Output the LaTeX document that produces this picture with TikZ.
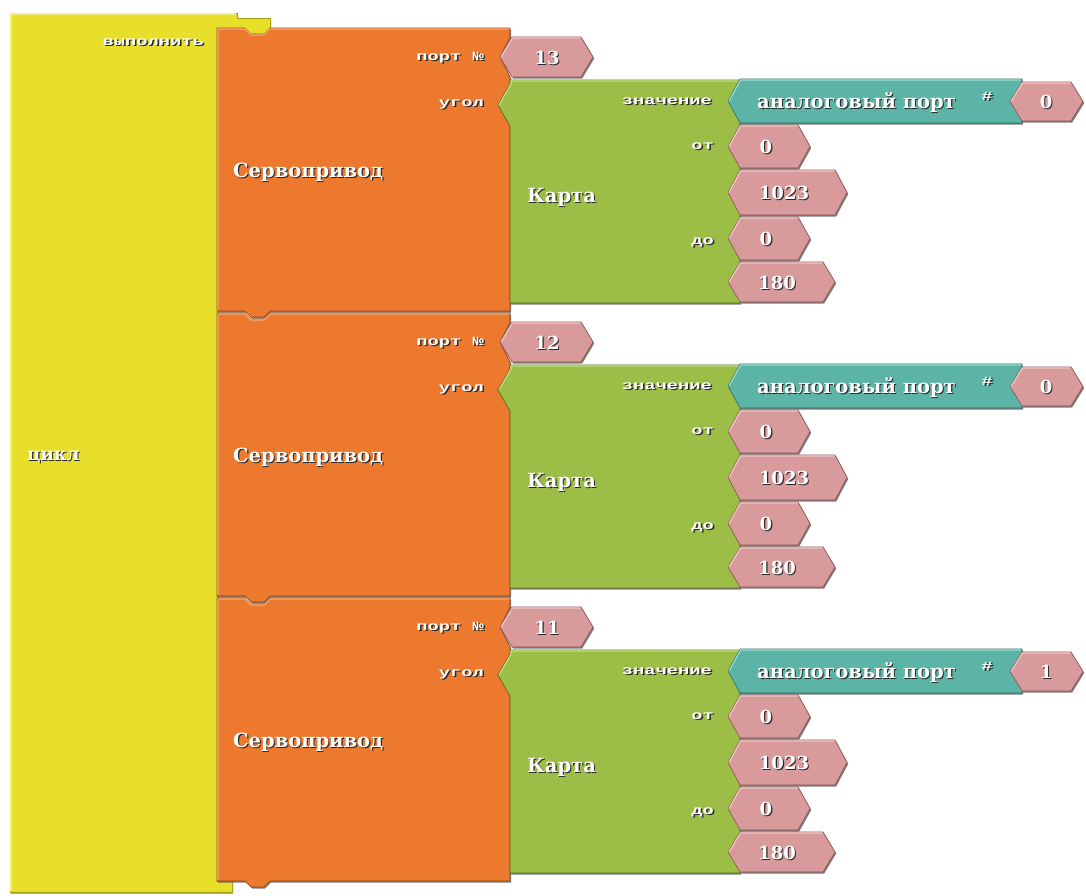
\documentclass[tikz,border=0pt]{standalone}
\usepackage{fontspec}
\usetikzlibrary{shadows}
\newfontfamily\ttlfont{DejaVu Serif}
\newfontfamily\lblfont{Liberation Mono}
\definecolor{ycol}{HTML}{E8DF2A}
\definecolor{ydark}{HTML}{A89E10}
\definecolor{ylight}{HTML}{F4EE7A}
\definecolor{ocol}{HTML}{EC792E}
\definecolor{odark}{HTML}{8E4514}
\definecolor{olight}{HTML}{F5A873}
\definecolor{gcol}{HTML}{9CBE46}
\definecolor{gdark}{HTML}{55701E}
\definecolor{glight}{HTML}{C4DE86}
\definecolor{tcol}{HTML}{5BB4A6}
\definecolor{tdark}{HTML}{2C6A60}
\definecolor{tlight}{HTML}{9DDCD2}
\definecolor{pcol}{HTML}{D89A9A}
\definecolor{pdark}{HTML}{8A5050}
\definecolor{plight}{HTML}{F0C8C8}
\definecolor{txtshadow}{HTML}{2A2A2A}
\newcommand\shtxt[1]{\rlap{\kern1.1pt\raisebox{-1.1pt}{\textcolor{txtshadow}{#1}}}\textcolor{white}{#1}}
\newcommand\mylbl[1]{\scalebox{1.5}[1]{\shtxt{#1}}}
\newcommand\pinkpath[4]{({#1},{((#3)+(#4))/2}) -- ({#1+12},{#3}) -- ({#2-12},{#3}) -- ({#2},{((#3)+(#4))/2}) -- ({#2-12},{#4}) -- ({#1+12},{#4}) -- cycle}
\newcommand\pinktop[4]{({#1+1},{((#3)+(#4))/2}) -- ({#1+12.5},{#3+1}) -- ({#2-12.5},{#3+1})}
\begin{document}
\begin{tikzpicture}[x=1pt,y=-1pt,
  blk/.style={drop shadow={shadow xshift=1.2pt,shadow yshift=-1.5pt,fill=black!60,opacity=0.85}},
  yblk/.style={blk,fill=ycol,draw=ydark,line width=0.6pt},
  oblk/.style={blk,fill=ocol,draw=odark,line width=0.6pt},
  gblk/.style={blk,fill=gcol,draw=gdark,line width=0.6pt},
  tblk/.style={blk,fill=tcol,draw=tdark,line width=0.6pt},
  pblk/.style={blk,fill=pcol,draw=pdark,line width=0.6pt},
  hl/.style={line width=1.2pt},
  ttl/.style={font=\ttlfont\bfseries\fontsize{19.5}{22}\selectfont,inner sep=0pt},
  num/.style={font=\ttlfont\bfseries\fontsize{18}{20}\selectfont,inner sep=0pt},
  lbl/.style={font=\lblfont\bfseries\fontsize{12.5}{14}\selectfont,inner sep=0pt}]
\path[fill=white] (0,0) rectangle (1086,895);
\useasboundingbox (0,0) rectangle (1086,895);
% yellow loop block
\path[yblk] (10,13) -- (237,13) -- (237,18) -- (270,18) -- (270,36) -- (217,36)
  -- (217,881) -- (232,881) -- (232,892) -- (10,892) -- cycle;
\draw[hl,ylight] (11,891) -- (11,14) -- (236,14);
\node[lbl,anchor=east] (vyp) at (204,43) {\mylbl{выполнить}};
\node[num,anchor=west] (cikl) at (27,458) {\shtxt{цикл}};
\foreach \k/\pn/\an in {0/13/0,1/12/0,2/11/1}{
  \pgfmathsetmacro\T{28+285*\k}
  \pgfmathsetmacro\B{311+285*\k}
  % orange servo block
  \path[oblk] (217,\T) -- (245,\T) -- (251,\T+6) -- (264,\T+6) -- (270,\T) -- (510,\T)
    -- (510,\T+9) -- (500,\T+29) -- (510,\T+49) -- (510,\T+56) -- (498,\T+77) -- (510,\T+98)
    -- (510,\B) -- (270,\B) -- (264,\B+6) -- (251,\B+6) -- (245,\B) -- (217,\B) -- cycle;
  \draw[hl,olight] (218,\B-1) -- (218,\T+1) -- (245,\T+1) -- (251,\T+7) -- (264,\T+7) -- (270,\T+1) -- (509,\T+1);
  % port number
  \path[pblk] \pinkpath{500}{593}{\T+9}{\T+49};
  \draw[hl,plight] \pinktop{500}{593}{\T+9}{\T+49};
  % green map block
  \path[gblk] (510,\T+52) -- (740,\T+52) -- (740,\T+275) -- (510,\T+275)
    -- (510,\T+98) -- (498,\T+77) -- (510,\T+56) -- cycle;
  \draw[hl,glight] (499,\T+77) -- (511,\T+56) -- (511,\T+53) -- (739,\T+53);
  % teal analog block
  \path[tblk] (728,\T+73) -- (740,\T+51) -- (1022,\T+51) -- (1022,\T+95) -- (740,\T+95) -- cycle;
  \draw[hl,tlight] (729,\T+73) -- (740.5,\T+52) -- (1021,\T+52);
  \path[pblk] \pinkpath{1010}{1083}{\T+54}{\T+93};
  \draw[hl,plight] \pinktop{1010}{1083}{\T+54}{\T+93};
  % number inputs
  \path[pblk] \pinkpath{728}{810}{\T+97}{\T+140};
  \draw[hl,plight] \pinktop{728}{810}{\T+97}{\T+140};
  \path[pblk] \pinkpath{728}{847}{\T+142}{\T+187};
  \draw[hl,plight] \pinktop{728}{847}{\T+142}{\T+187};
  \path[pblk] \pinkpath{728}{810}{\T+189}{\T+232};
  \draw[hl,plight] \pinktop{728}{810}{\T+189}{\T+232};
  \path[pblk] \pinkpath{728}{835}{\T+234}{\T+274};
  \draw[hl,plight] \pinktop{728}{835}{\T+234}{\T+274};
  % texts
  \node[lbl,anchor=east] (port\k) at (484,\T+30) {\mylbl{порт №}};
  \node[lbl,anchor=east] (ugol\k) at (484,\T+77) {\mylbl{угол}};
  \node[ttl,anchor=west] (servo\k) at (233,\T+145) {\shtxt{Сервопривод}};
  \node[num] (pn\k) at (547,\T+30) {\shtxt{\pn}};
  \node[ttl,anchor=west] (karta\k) at (527,\T+170) {\shtxt{Карта}};
  \node[lbl,anchor=east] (znach\k) at (712,\T+74) {\mylbl{значение}};
  \node[lbl,anchor=east] (ot\k) at (714,\T+119) {\mylbl{от}};
  \node[lbl,anchor=east] (do\k) at (714,\T+215) {\mylbl{до}};
  \node[ttl,anchor=west] (analog\k) at (757,\T+75) {\shtxt{аналоговый порт}};
  \node[lbl] (hash\k) at (987,\T+69) {\mylbl{\#}};
  \node[num] (an\k) at (1046,\T+74) {\shtxt{\an}};
  \node[num] (from\k) at (766,\T+119) {\shtxt{0}};
  \node[num] (fromhi\k) at (784,\T+165) {\shtxt{1023}};
  \node[num] (to\k) at (766,\T+211) {\shtxt{0}};
  \node[num] (tohi\k) at (777,\T+255) {\shtxt{180}};
}
\end{tikzpicture}
\end{document}
